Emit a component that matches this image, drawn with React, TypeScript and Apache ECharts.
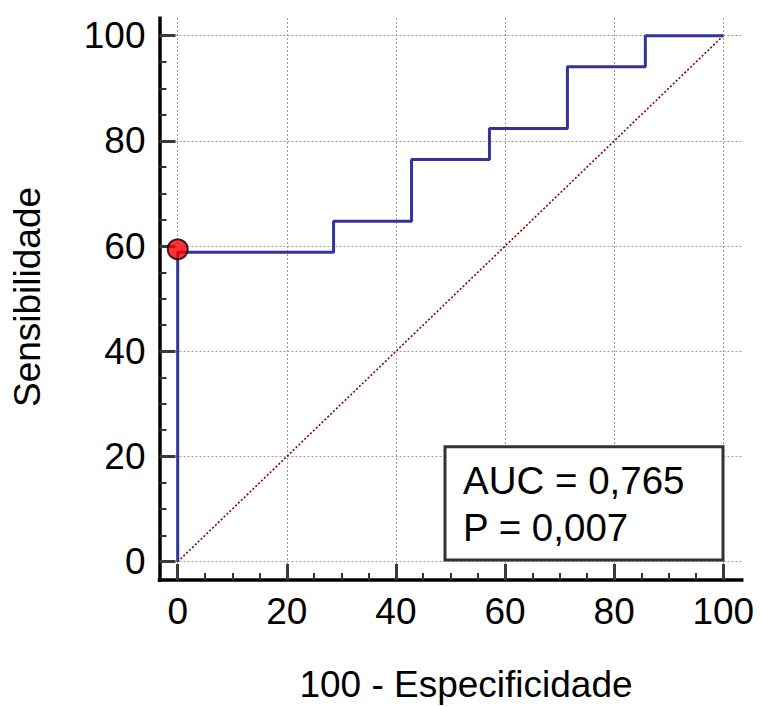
import React, { useEffect, useRef } from 'react';
import * as echarts from 'echarts';

// ---- data ----
const fprValues = [0, 0, 28.57, 28.57, 42.86, 42.86, 57.14, 57.14, 71.43, 71.43, 85.71, 85.71, 100];
const sensValues = [0, 58.82, 58.82, 64.71, 64.71, 76.47, 76.47, 82.35, 82.35, 94.12, 94.12, 100, 100];
const diagonalX = [0, 100];
const diagonalY = [0, 100];
const criterionPoint = [0, 59.4];
const tickValues = [0, 20, 40, 60, 80, 100];
const aucLine = 'AUC = 0,765';
const pLine = 'P = 0,007';
const xTitle = '100 - Especificidade';
const yTitle = 'Sensibilidade';

// ---- layout (pixels) ----
const W = 761;
const H = 707;
const dataLeft = 177.7;
const dataRight = 723.3;
const dataTop = 35.7;
const dataBottom = 561.7;
const frameLeft = 159.5;
const frameRight = 741.7;
const frameTop = 18.3;
const frameBottom = 580;
const FONT = '"Liberation Sans", Arial, sans-serif';
const FS = 37;
const LEGEND_FS = 38.5;

export default function App() {
  const ref = useRef<HTMLDivElement>(null);
  useEffect(() => {
    document.body.style.margin = '0';
    if (!ref.current) return;
    const chart = echarts.init(ref.current, undefined, { renderer: 'svg' });
    const pxX = (dataRight - dataLeft) / 100;
    const pxY = (dataBottom - dataTop) / 100;
    const fxMin = -(dataLeft - frameLeft) / pxX;
    const fxMax = 100 + (frameRight - dataRight) / pxX;
    const fyMin = -(frameBottom - dataBottom) / pxY;
    const fyMax = 100 + (dataTop - frameTop) / pxY;

    const tickCommon = {
      show: true,
      inside: true,
      length: 16,
      lineStyle: { color: '#3a3a3a', width: 3 },
    };
    const minorCommon = {
      show: true,
      splitNumber: 4,
      length: 7,
      lineStyle: { color: '#333', width: 2 },
    };
    const labelCommon = {
      fontSize: FS,
      fontFamily: FONT,
      color: '#000',
    };

    chart.setOption({
      animation: false,
      grid: [
        {
          left: dataLeft,
          right: W - dataRight,
          top: dataTop,
          bottom: H - dataBottom,
        },
        {
          left: frameLeft,
          right: W - frameRight,
          top: frameTop,
          bottom: H - frameBottom,
        },
      ],
      xAxis: [
        {
          type: 'value',
          gridIndex: 0,
          position: 'bottom',
          z: 1,
          min: 0,
          max: 100,
          interval: 20,
          offset: frameBottom - dataBottom,
          axisLine: { show: false, onZero: false },
          axisTick: tickCommon,
          minorTick: minorCommon,
          splitLine: { show: false },
          axisLabel: { ...labelCommon, margin: 13 },
        },
        {
          type: 'value',
          gridIndex: 1,
          position: 'bottom',
          z: 1,
          min: fxMin,
          max: fxMax,
          axisLine: { show: true, onZero: false, lineStyle: { color: '#000', width: 3.5, cap: 'square' } },
          axisTick: { show: false },
          axisLabel: { show: false },
          splitLine: { show: false },
        },
      ],
      yAxis: [
        {
          type: 'value',
          gridIndex: 0,
          position: 'left',
          z: 1,
          min: 0,
          max: 100,
          interval: 20,
          offset: dataLeft - frameLeft,
          axisLine: { show: false, onZero: false },
          axisTick: tickCommon,
          minorTick: minorCommon,
          splitLine: { show: false },
          axisLabel: { ...labelCommon, margin: 14 },
        },
        {
          type: 'value',
          gridIndex: 1,
          position: 'left',
          z: 1,
          min: fyMin,
          max: fyMax,
          axisLine: { show: true, onZero: false, lineStyle: { color: '#000', width: 3.5, cap: 'square' } },
          axisTick: { show: false },
          axisLabel: { show: false },
          splitLine: { show: false },
        },
      ],
      series: [
        {
          type: 'line',
          xAxisIndex: 1,
          yAxisIndex: 1,
          data: [],
          z: 0,
          silent: true,
          markLine: {
            silent: true,
            z: 0,
            symbol: 'none',
            label: { show: false },
            lineStyle: { color: '#9a9a9a', width: 1, type: [2, 2] },
            data: [
              ...tickValues.map((v) => ({ xAxis: v })),
              ...tickValues.map((v) => ({ yAxis: v })),
            ],
          },
        },
        {
          type: 'line',
          xAxisIndex: 0,
          yAxisIndex: 0,
          data: diagonalX.map((x, i) => [x, diagonalY[i]]),
          showSymbol: false,
          clip: false,
          z: 2,
          lineStyle: { color: '#8b0000', width: 1.6, type: [2, 2] },
        },
        {
          type: 'line',
          xAxisIndex: 0,
          yAxisIndex: 0,
          data: fprValues.map((x, i) => [x, sensValues[i]]),
          showSymbol: false,
          clip: false,
          z: 3,
          lineStyle: { color: '#333399', width: 3 },
        },
        {
          type: 'scatter',
          xAxisIndex: 0,
          yAxisIndex: 0,
          data: [criterionPoint],
          symbol: 'circle',
          symbolSize: 20,
          clip: false,
          z: 4,
          itemStyle: { color: '#ff0000', borderColor: '#000', borderWidth: 2 },
        },
      ],
      graphic: [
        {
          type: 'rect',
          z: 10,
          shape: { x: 445, y: 446.7, width: 278, height: 113.3 },
          style: { fill: '#fff', stroke: '#333', lineWidth: 3 },
        },
        {
          type: 'text',
          z: 11,
          x: 463,
          y: 480.3,
          style: {
            text: aucLine,
            fontSize: LEGEND_FS,
            fontFamily: FONT,
            fill: '#000',
            align: 'left',
            verticalAlign: 'middle',
          },
        },
        {
          type: 'text',
          z: 11,
          x: 463,
          y: 527,
          style: {
            text: pLine,
            fontSize: LEGEND_FS,
            fontFamily: FONT,
            fill: '#000',
            align: 'left',
            verticalAlign: 'middle',
          },
        },
        {
          type: 'text',
          x: 466,
          y: 684,
          style: {
            text: xTitle,
            fontSize: FS,
            fontFamily: FONT,
            fill: '#000',
            align: 'center',
            verticalAlign: 'middle',
          },
        },
        {
          type: 'text',
          x: 27,
          y: 297,
          rotation: Math.PI / 2,
          style: {
            text: yTitle,
            fontSize: FS,
            fontFamily: FONT,
            fill: '#000',
            align: 'center',
            verticalAlign: 'middle',
          },
        },
      ],
    });
    return () => chart.dispose();
  }, []);
  return <div ref={ref} style={{ width: W, height: H }} />;
}
